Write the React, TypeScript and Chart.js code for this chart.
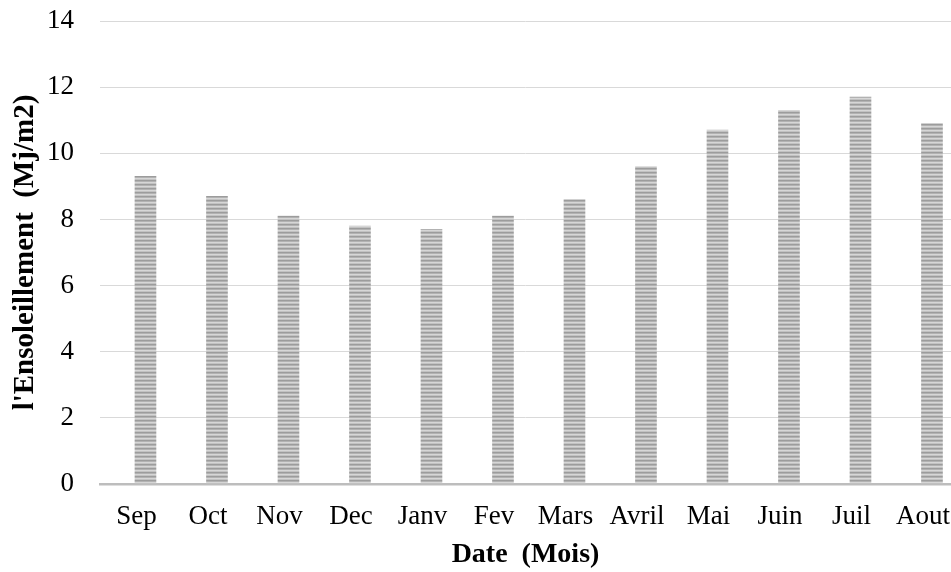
import React, { useEffect, useRef } from "react";
import { Chart, registerables } from "chart.js";

Chart.register(...registerables);

const months = ["Sep", "Oct", "Nov", "Dec", "Janv", "Fev", "Mars", "Avril", "Mai", "Juin", "Juil", "Aout"];
const sunshine = [9.3, 8.7, 8.1, 7.8, 7.7, 8.1, 8.6, 9.6, 10.7, 11.3, 11.7, 10.9];
const yTicks = [0, 2, 4, 6, 8, 10, 12, 14];
const yTitle = "l'Ensoleillement  (Mj/m2)";
const xTitle = "Date  (Mois)";

function makePattern(): CanvasPattern | string {
  const pc = document.createElement("canvas");
  pc.width = 4;
  pc.height = 4;
  const ctx = pc.getContext("2d");
  if (!ctx) return "#b5b5b5";
  const rows = ["#9c9c9c", "#b2b2b2", "#d6d6d6", "#c2c2c2"];
  rows.forEach((c, i) => {
    ctx.fillStyle = c;
    ctx.fillRect(0, i, 4, 1);
  });
  return ctx.createPattern(pc, "repeat") || "#b5b5b5";
}

export default function App() {
  const ref = useRef<HTMLCanvasElement | null>(null);

  useEffect(() => {
    document.body.style.margin = "0";
    const canvas = ref.current;
    if (!canvas) return;
    const pattern = makePattern();
    const font = "'Liberation Serif', 'Times New Roman', serif";
    const chart = new Chart(canvas, {
      type: "bar",
      data: {
        datasets: [
          {
            data: sunshine.map((v, i) => ({ x: i, y: v })),
            backgroundColor: pattern as any,
            borderWidth: 0,
            barThickness: 21,
          },
        ],
      },
      options: {
        animation: false,
        responsive: false,
        maintainAspectRatio: false,
        layout: { padding: { top: 21, left: 0, right: 0, bottom: 0 } },
        plugins: { legend: { display: false }, tooltip: { enabled: false } },
        scales: {
          x: {
            type: "linear",
            min: -0.636,
            max: 11.266,
            offset: false,
            grid: { display: false, drawTicks: false },
            border: { display: true, color: "#bdbdbd", width: 2.5 },
            afterBuildTicks: (scale: any) => {
              scale.ticks = months.map((_, i) => ({ value: i - 0.125 }));
            },
            ticks: {
              autoSkip: false,
              maxRotation: 0,
              padding: 17,
              color: "#000",
              font: { family: font, size: 27 },
              callback: (v: any) => months[Math.round(Number(v))] ?? "",
            },
            title: {
              display: true,
              text: xTitle,
              color: "#000",
              font: { family: font, size: 28, weight: "bold" },
              padding: { top: 0, bottom: 0 },
            },
            afterFit: (scale: any) => {
              scale.height = 88;
              scale.paddingLeft = 0;
              scale.paddingRight = 0;
            },
          },
          y: {
            min: 0,
            max: 14,
            afterBuildTicks: (scale: any) => {
              scale.ticks = yTicks.map((v) => ({ value: v }));
            },
            grid: { color: "#d9d9d9", lineWidth: 1, drawTicks: false },
            border: { display: false },
            ticks: {
              padding: 26,
              color: "#000",
              font: { family: font, size: 27 },
            },
            title: {
              display: true,
              text: yTitle,
              color: "#000",
              font: { family: font, size: 29, weight: "bold" },
              padding: { top: 8, bottom: 0 },
            },
            afterFit: (scale: any) => {
              scale.width = 100;
              scale.paddingTop = 0;
              scale.paddingBottom = 0;
            },
          },
        },
      },
    });
    return () => chart.destroy();
  }, []);

  return (
    <div style={{ position: "fixed", left: 0, top: 0, width: 951, height: 572, overflow: "hidden", background: "#fff" }}>
      <canvas ref={ref} width={951} height={572} style={{ width: 951, height: 572, display: "block" }} />
    </div>
  );
}
